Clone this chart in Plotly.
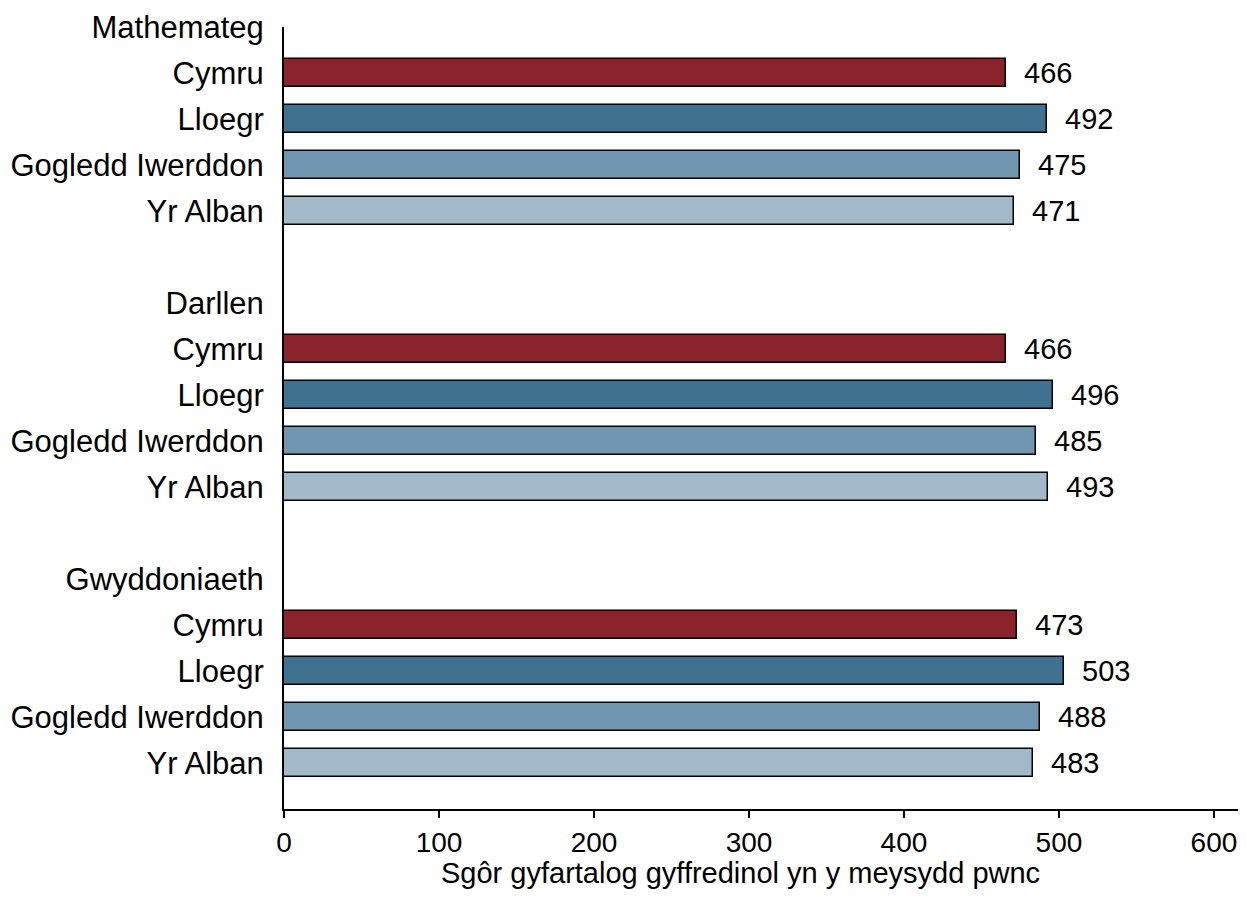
import plotly.graph_objects as go

# subject groups, countries and mean scores
subjects = ["Mathemateg", "Darllen", "Gwyddoniaeth"]
countries = ["Cymru", "Lloegr", "Gogledd Iwerddon", "Yr Alban"]
maths = [466, 492, 475, 471]
reading = [466, 496, 485, 493]
science = [473, 503, 488, 483]
scores = [maths, reading, science]

colours = ["#8a232b", "#3f7191", "#7197b0", "#a2b9ca"]
x_ticks = [0, 100, 200, 300, 400, 500, 600]
x_title = 'Sgôr gyfartalog gyffredinol yn y meysydd pwnc'

# build rows: header row, four country rows, blank spacer row
tickvals, ticktext = [], []
bar_y = {c: [] for c in countries}
bar_x = {c: [] for c in countries}
row = 0
for subj, vals in zip(subjects, scores):
    tickvals.append(row)
    ticktext.append(subj)
    row += 1
    for c, v in zip(countries, vals):
        tickvals.append(row)
        ticktext.append(c)
        bar_y[c].append(row)
        bar_x[c].append(v)
        row += 1
    row += 1

fig = go.Figure()
for c, col in zip(countries, colours):
    fig.add_trace(go.Bar(
        x=bar_x[c],
        y=bar_y[c],
        orientation='h',
        width=0.6,
        marker=dict(color=col, line=dict(color='black', width=1.5)),
        showlegend=False,
        hoverinfo='skip'
    ))
    for xv, yv in zip(bar_x[c], bar_y[c]):
        fig.add_annotation(
            x=xv, y=yv, xref='x', yref='y',
            text=str(xv), showarrow=False,
            xanchor='left', xshift=16,
            font=dict(size=29, color='black')
        )

# x axis title as an annotation so it sits below the tick labels
fig.add_annotation(
    x=300, y=0, xref='x', yref='paper',
    text=x_title, showarrow=False,
    xanchor='center', yanchor='top', yshift=-46, xshift=-8,
    font=dict(size=29, color='black')
)

fig.update_layout(
    width=1230, height=885,
    margin=dict(l=276, r=0, t=19, b=84),
    plot_bgcolor='white', paper_bgcolor='white',
    font=dict(family='Liberation Sans, Arial', color='black'),
    bargap=0
)
fig.update_xaxes(
    range=[0, 615.5], tickvals=x_ticks, automargin=False,
    showgrid=False, zeroline=False,
    showline=True, linecolor='black', linewidth=2,
    ticks='outside', ticklen=7, tickwidth=1.5, tickcolor='black',
    tickfont=dict(size=28), ticklabeloverflow='allow'
)
fig.update_yaxes(
    range=[row - 1, 0], tickvals=tickvals, ticktext=ticktext,
    automargin=False,
    showgrid=False, zeroline=False,
    showline=True, linecolor='black', linewidth=2,
    ticks='', ticklabelstandoff=12,
    tickfont=dict(size=31)
)

fig.write_html("out.html")
